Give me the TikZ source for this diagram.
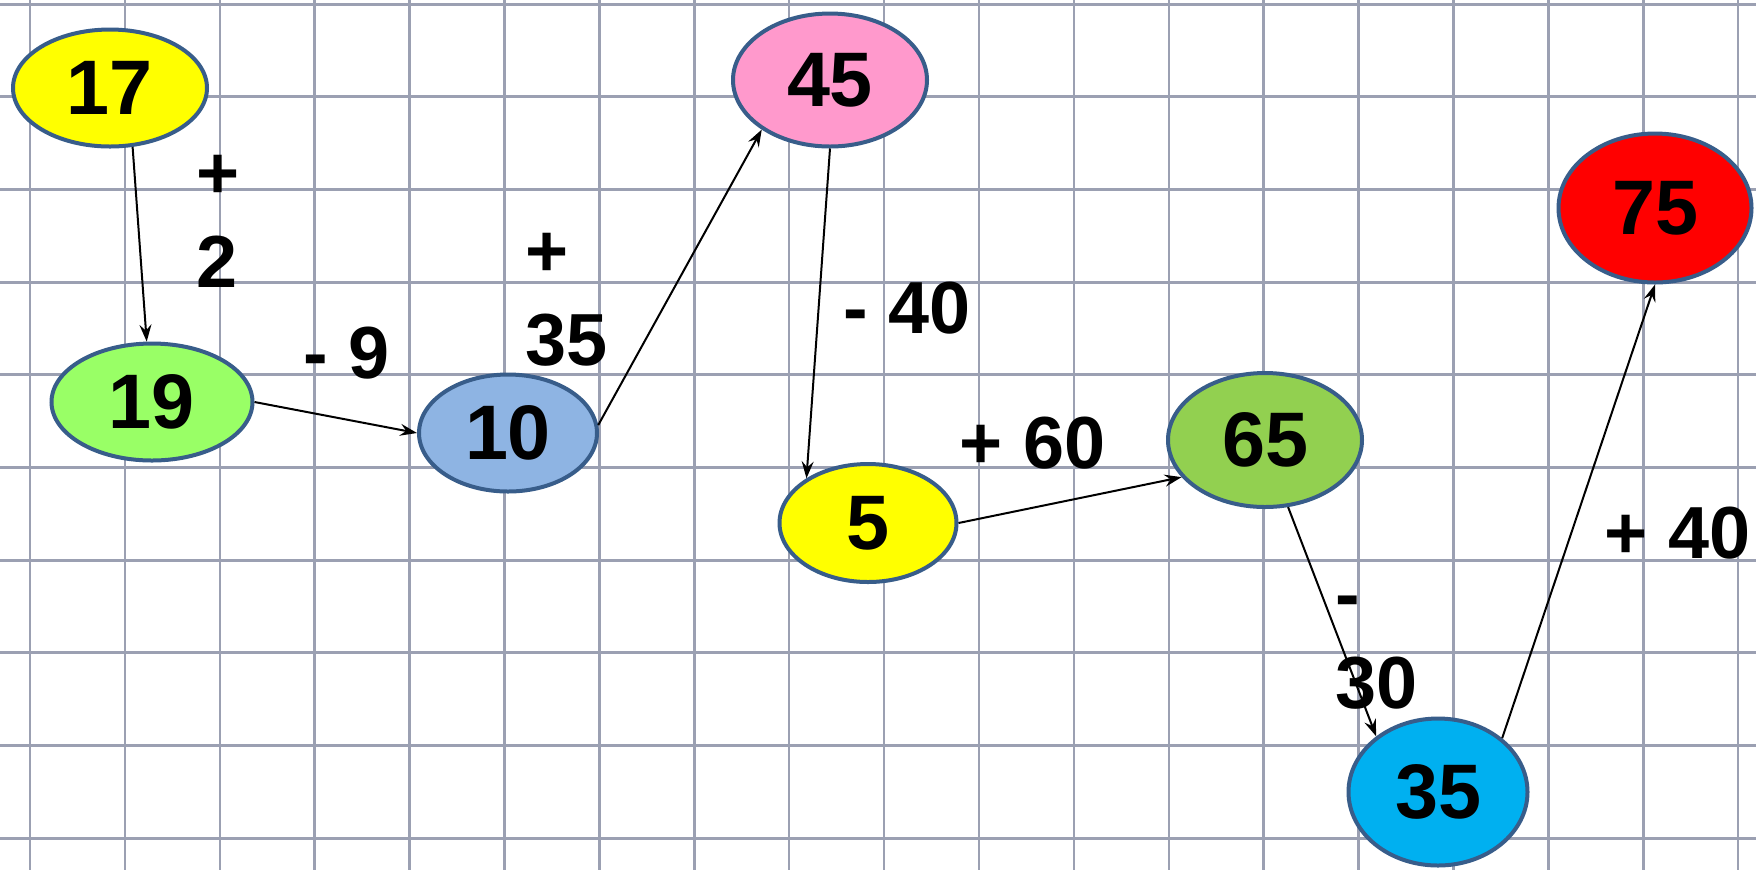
\documentclass[tikz,border=0pt]{standalone}
\usepackage{fontspec}
\setmainfont{Liberation Sans}
\usetikzlibrary{shapes.geometric,arrows.meta}
\definecolor{gridgray}{RGB}{155,160,178}
\definecolor{rimblue}{RGB}{56,93,138}
\definecolor{myyellow}{RGB}{255,255,0}
\definecolor{mylime}{RGB}{153,255,102}
\definecolor{myblue}{RGB}{142,180,227}
\definecolor{mypink}{RGB}{255,153,204}
\definecolor{mygreen}{RGB}{146,208,80}
\definecolor{mycyan}{RGB}{0,176,240}
\definecolor{myred}{RGB}{255,0,0}

\begin{document}
\begin{tikzpicture}[x=0.1mm,y=-0.1mm,
  bubble/.style={ellipse,draw=rimblue,line width=0.4mm,inner sep=0pt,
    font=\fontsize{22}{26}\selectfont\bfseries},
  oplabel/.style={anchor=base west,inner sep=0pt,align=left,
    font=\fontsize{21}{25.3}\selectfont\bfseries},
  hop/.style={-{Stealth[length=1.7mm,width=1.2mm,inset=0.6mm]},line width=0.2mm}]
  \useasboundingbox (0,0) rectangle (1756,870);
  \fill[white] (0,0) rectangle (1756,870);

  % squared paper
  \foreach \k in {0,...,18}
    \draw[gridgray,line width=0.25mm] (30+94.9*\k,0) -- (30+94.9*\k,870);
  \foreach \k in {0,...,9}
    \draw[gridgray,line width=0.3mm] (0,4+92.7*\k) -- (1756,4+92.7*\k);

  % number bubbles
  \node[bubble,fill=myyellow,minimum width=19.4mm,minimum height=11.7mm] (n17) at (110,88) {17};
  \node[bubble,fill=mylime,minimum width=20.1mm,minimum height=11.7mm] (n19) at (152,402) {19};
  \node[bubble,fill=myblue,minimum width=17.8mm,minimum height=11.7mm] (n10) at (508,433) {10};
  \node[bubble,fill=mypink,minimum width=19.4mm,minimum height=13.3mm] (n45) at (830,80) {45};
  \node[bubble,fill=myyellow,minimum width=17.7mm,minimum height=11.8mm] (n5) at (868,523) {5};
  \node[bubble,fill=mygreen,minimum width=19.4mm,minimum height=13.4mm] (n65) at (1265,440) {65};
  \node[bubble,fill=mycyan,minimum width=17.9mm,minimum height=14.7mm] (n35) at (1438,792) {35};
  \node[bubble,fill=myred,minimum width=19.3mm,minimum height=14.9mm] (n75) at (1655,208) {75};

  % steps
  \draw[hop] (n17.-69) -- (n19.95);
  \draw[hop] (n19.east) -- (n10.west);
  \draw[hop] (n10.5) -- (n45.-144);
  \draw[hop] (n45.south) -- (n5.144);
  \draw[hop] (n5.east) -- (n65.-156);
  \draw[hop] (n65.-71) -- (n35.138);
  \draw[hop] (n35.40) -- (n75.south);

  % operations
  \node[oplabel] (op1) at (196,287) {+\\2};
  \node[oplabel] (op2) at (303,378) {- 9};
  \node[oplabel] (op3) at (525,365) {+\\35};
  \node[oplabel] (op4) at (843,333) {- 40};
  \node[oplabel] (op5) at (959,468) {+ 60};
  \node[oplabel] (op6) at (1335,708) {-\\30};
  \node[oplabel] (op7) at (1604,558) {+ 40};
\end{tikzpicture}
\end{document}
